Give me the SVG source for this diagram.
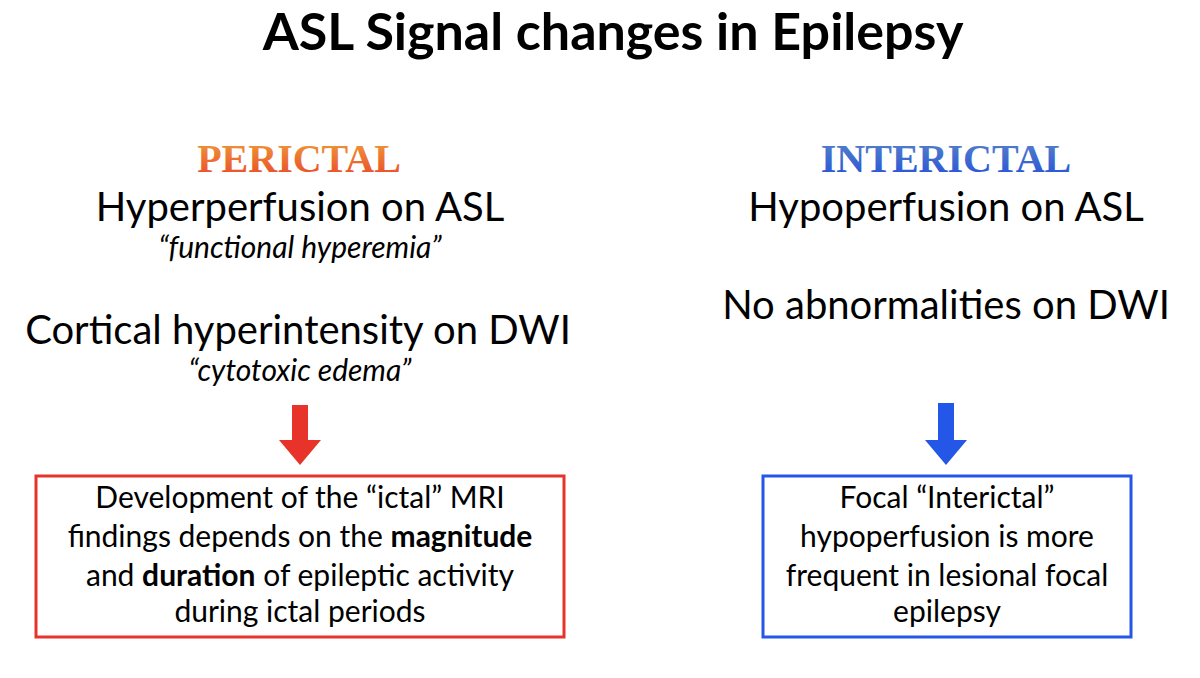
<svg xmlns="http://www.w3.org/2000/svg" width="1200" height="678" viewBox="0 0 1200 678">
<defs>
<linearGradient id="gO" x1="0" y1="0" x2="0" y2="1"><stop offset="0" stop-color="#f0a33a"/><stop offset="1" stop-color="#e8432a"/></linearGradient>
<linearGradient id="gB" x1="0" y1="0" x2="0" y2="1"><stop offset="0" stop-color="#5b86c8"/><stop offset="1" stop-color="#2250d8"/></linearGradient>
<style>
.t{font-family:"Lato","Open Sans",sans-serif;fill:#000;text-anchor:middle}
.h{font-family:"Liberation Serif",serif;font-weight:bold;font-size:40px;text-anchor:middle}
.big{font-size:40px}
.it{font-size:30px;font-style:italic}
.bx{font-size:30px}
</style>
</defs>
<rect width="1200" height="678" fill="#fff"/>
<text class="t" x="613" y="50" font-size="52" font-weight="bold">ASL Signal changes in Epilepsy</text>
<g id="perictal">
<text class="h" x="299" y="172" fill="url(#gO)">PERICTAL</text>
<text class="t big" x="300" y="221">Hyperperfusion on ASL</text>
<text class="t it" x="300" y="258">“functional hyperemia”</text>
<text class="t big" x="298" y="344">Cortical hyperintensity on DWI</text>
<text class="t it" x="300" y="381">“cytotoxic edema”</text>
</g>
<g id="interictal">
<text class="h" x="946" y="172" fill="url(#gB)">INTERICTAL</text>
<text class="t big" x="946" y="221">Hypoperfusion on ASL</text>
<text class="t big" x="946" y="319">No abnormalities on DWI</text>
</g>
<g id="connectors">
<polygon points="292,405 308,405 308,440 321,440 300,465 279,440 292,440" fill="#e8332a"/>
<polygon points="938,403 954,403 954,440 967,440 946,465 925,440 938,440" fill="#2457e8"/>
</g>
<g id="box-left">
<rect x="36" y="476" width="528" height="161" fill="none" stroke="#e8332a" stroke-width="3"/>
<text class="t bx" x="300" y="508">Development of the “ictal” MRI</text>
<text class="t bx" x="300" y="547">findings depends on the <tspan font-weight="bold">magnitude</tspan></text>
<text class="t bx" x="300" y="586">and <tspan font-weight="bold">duration</tspan> of epileptic activity</text>
<text class="t bx" x="300" y="622">during ictal periods</text>
</g>
<g id="box-right">
<rect x="763" y="476" width="368" height="161" fill="none" stroke="#2457e8" stroke-width="3"/>
<text class="t bx" x="947" y="508">Focal “Interictal”</text>
<text class="t bx" x="947" y="547">hypoperfusion is more</text>
<text class="t bx" x="947" y="586">frequent in lesional focal</text>
<text class="t bx" x="947" y="622">epilepsy</text>
</g>
</svg>
